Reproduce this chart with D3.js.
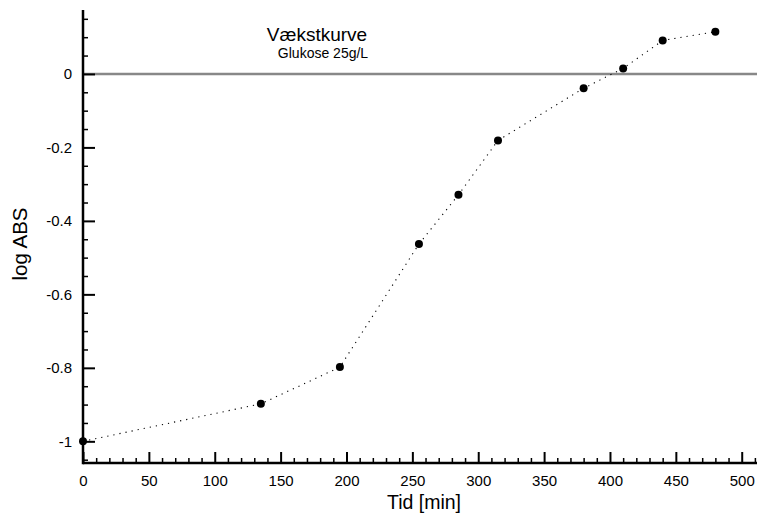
<!DOCTYPE html>
<html>
<head>
<meta charset="utf-8">
<script src="https://cdn.jsdelivr.net/npm/d3@7"></script>
<style>
  html, body { margin: 0; padding: 0; background: #fff; }
  svg { display: block; font-family: "Liberation Sans", Arial, Helvetica, sans-serif; }
</style>
</head>
<body>
<svg id="chart" width="757" height="516"></svg>
<script>
// Data
const times = [0, 135, 195, 255, 285, 315, 380, 410, 440, 480];
const logAbs = [-1.0, -0.898, -0.798, -0.463, -0.329, -0.181, -0.039, 0.015, 0.091, 0.115];
const xTickValues = [0, 50, 100, 150, 200, 250, 300, 350, 400, 450, 500];
const yTickValues = [0, -0.2, -0.4, -0.6, -0.8, -1];
const titleText = "Vækstkurve";
const subtitleText = "Glukose 25g/L";
const xLabelText = "Tid [min]";
const yLabelText = "log ABS";

const W = 757, H = 516;
const m = { left: 83, right: 0, top: 10, bottom: 53 };
const svg = d3.select("#chart");

const x = d3.scaleLinear().domain([0, 511.6]).range([m.left, W - m.right]);
const y = d3.scaleLinear().domain([-1.059, 0.174]).range([H - m.bottom, m.top]);

// zero line
svg.append("line")
  .attr("x1", x(0)).attr("x2", W)
  .attr("y1", y(0)).attr("y2", y(0))
  .attr("stroke", "#888").attr("stroke-width", 2.5);

// minor ticks
const xMinor = d3.range(0, 511, 10).filter(v => v % 50 !== 0);
const yMinor = d3.range(-105, 18, 5).map(v => v / 100).filter(v => Math.abs(Math.round(v * 100) % 20) !== 0);

const xAxisMinor = d3.axisBottom(x).tickValues(xMinor).tickSize(-5).tickFormat("");
const xAxisMajor = d3.axisBottom(x).tickValues(xTickValues).tickSize(-11).tickPadding(12).tickFormat(d3.format("d"));
const yAxisMinor = d3.axisLeft(y).tickValues(yMinor).tickSize(-5).tickFormat("");
const yAxisMajor = d3.axisLeft(y).tickValues(yTickValues).tickSize(-12).tickPadding(11).tickFormat(d => d === 0 ? "0" : (d === -1 ? "-1" : d3.format(".1f")(d).replace("−", "-")));

function styleAxis(g, w) {
  g.select(".domain").remove();
  g.selectAll(".tick line").attr("stroke", "#000").attr("stroke-width", w);
  g.selectAll(".tick text").attr("fill", "#000").style("font-size", "15px");
}

const gx1 = svg.append("g").attr("transform", `translate(0,${y.range()[0]})`).call(xAxisMinor);
styleAxis(gx1, 1.5);
const gx2 = svg.append("g").attr("transform", `translate(0,${y.range()[0]})`).call(xAxisMajor);
styleAxis(gx2, 2);
const gy1 = svg.append("g").attr("transform", `translate(${x(0)},0)`).call(yAxisMinor);
styleAxis(gy1, 1.5);
const gy2 = svg.append("g").attr("transform", `translate(${x(0)},0)`).call(yAxisMajor);
styleAxis(gy2, 2);

// axis lines
svg.append("line").attr("x1", x(0)).attr("x2", W).attr("y1", y.range()[0]).attr("y2", y.range()[0])
  .attr("stroke", "#000").attr("stroke-width", 2.5);
svg.append("line").attr("x1", x(0)).attr("x2", x(0)).attr("y1", y.range()[1]).attr("y2", y.range()[0] + 1.25)
  .attr("stroke", "#000").attr("stroke-width", 2.5);

// data line
const pts = times.map((t, i) => [t, logAbs[i]]);
svg.append("path")
  .datum(pts)
  .attr("fill", "none")
  .attr("stroke", "#000")
  .attr("stroke-width", 1.1)
  .attr("stroke-dasharray", "1.2,5")
  .attr("d", d3.line().x(d => x(d[0])).y(d => y(d[1])));

svg.append("g").selectAll("circle")
  .data(pts)
  .join("circle")
  .attr("cx", d => x(d[0]))
  .attr("cy", d => y(d[1]))
  .attr("r", 4)
  .attr("fill", "#000");

// titles
svg.append("text").attr("x", 317).attr("y", 41).attr("text-anchor", "middle")
  .style("font-size", "19px").text(titleText);
svg.append("text").attr("x", 323).attr("y", 58).attr("text-anchor", "middle")
  .style("font-size", "14px").text(subtitleText);

svg.append("text").attr("x", 424).attr("y", 509).attr("text-anchor", "middle")
  .style("font-size", "19.5px").text(xLabelText);
svg.append("text").attr("transform", `translate(27,244) rotate(-90)`).attr("text-anchor", "middle")
  .style("font-size", "20.5px").text(yLabelText);
</script>
</body>
</html>
